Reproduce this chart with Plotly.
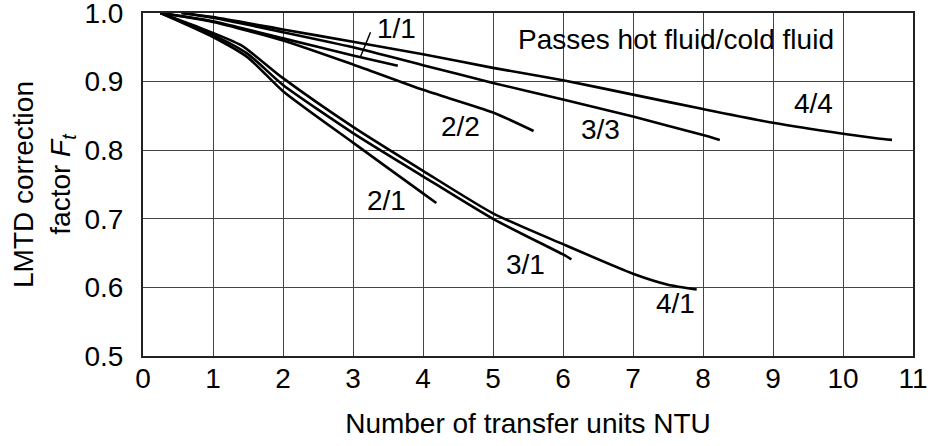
import plotly.graph_objects as go

# ---- data ----
names = ["4/4", "3/3", "1/1", "2/2", "4/1", "3/1", "2/1"]

ntu_44 = [0.55, 1, 2, 3, 4, 5, 6, 7, 8, 9, 10, 10.5, 10.7]
ft_44 = [1.0, 0.994, 0.976, 0.958, 0.940, 0.920, 0.902, 0.881, 0.860, 0.840, 0.824, 0.817, 0.815]

ntu_33 = [0.55, 1, 2, 3, 4, 5, 6, 7, 8, 8.24]
ft_33 = [1.0, 0.993, 0.972, 0.950, 0.924, 0.898, 0.874, 0.849, 0.822, 0.815]

ntu_11 = [0.25, 1, 2, 3, 3.64]
ft_11 = [1.0, 0.988, 0.963, 0.938, 0.923]

ntu_22 = [0.25, 1, 2, 3, 4, 5, 5.58]
ft_22 = [1.0, 0.987, 0.960, 0.925, 0.888, 0.855, 0.828]

ntu_41 = [0.25, 0.8, 1.4, 2, 3, 4, 5, 6, 7, 7.5, 7.91]
ft_41 = [1.0, 0.979, 0.953, 0.905, 0.834, 0.770, 0.708, 0.663, 0.620, 0.604, 0.597]

ntu_31 = [0.25, 1, 1.5, 2, 3, 4, 5, 6, 6.12]
ft_31 = [1.0, 0.968, 0.940, 0.895, 0.825, 0.762, 0.700, 0.648, 0.641]

ntu_21 = [0.25, 1, 1.5, 2, 3, 4, 4.19]
ft_21 = [1.0, 0.965, 0.935, 0.886, 0.811, 0.737, 0.723]

# curve labels
label_text = ["1/1", "2/2", "3/3", "4/4", "2/1", "3/1", "4/1"]
label_x = [3.62, 4.53, 6.53, 9.58, 3.48, 5.46, 7.6]
label_y = [0.977, 0.834, 0.830, 0.868, 0.726, 0.634, 0.576]

x_ticks = list(range(0, 12))
y_ticks = [0.5, 0.6, 0.7, 0.8, 0.9, 1.0]

series = [
    (ntu_44, ft_44), (ntu_33, ft_33), (ntu_11, ft_11), (ntu_22, ft_22),
    (ntu_41, ft_41), (ntu_31, ft_31), (ntu_21, ft_21),
]

FONT = "Liberation Sans, Arial, Helvetica, sans-serif"
FS = 28

fig = go.Figure()
for name, (xs, ys) in zip(names, series):
    fig.add_trace(go.Scatter(
        x=xs, y=ys, mode="lines", name=name,
        line=dict(color="black", width=2.6, shape="spline", smoothing=0.6),
        showlegend=False, hoverinfo="skip",
    ))

for t, x, y in zip(label_text, label_x, label_y):
    fig.add_annotation(x=x, y=y, text=t, showarrow=False,
                       font=dict(family=FONT, size=FS, color="black"))

# leader line for 1/1
fig.add_shape(type="line", x0=3.25, y0=0.972, x1=3.11, y1=0.937,
              line=dict(color="black", width=1.5))

# white box behind the legend caption (interrupts grid lines)
fig.add_shape(type="rect", x0=5.05, x1=10.9, y0=0.936, y1=0.988,
              fillcolor="white", line=dict(width=0), layer="below")
fig.add_annotation(x=7.62, y=0.962, text="Passes hot fluid/cold fluid",
                   showarrow=False,
                   font=dict(family=FONT, size=FS, color="black"))

fig.update_xaxes(
    range=[0, 11], tickvals=x_ticks, ticktext=[str(v) for v in x_ticks],
    showgrid=True, gridcolor="#444444", gridwidth=1.4,
    showline=True, linecolor="#222", linewidth=2, mirror=True,
    ticks="", zeroline=False, automargin="bottom",
    ticklabelstandoff=-4, ticklabeloverflow="allow",
    tickfont=dict(family=FONT, size=FS, color="black"),
    title=dict(text="Number of transfer units NTU",
               font=dict(family=FONT, size=FS, color="black"), standoff=21),
)
fig.update_yaxes(
    range=[0.5, 1.0], tickvals=y_ticks, ticktext=[f"{v:.1f}" for v in y_ticks],
    showgrid=True, gridcolor="#444444", gridwidth=1.4,
    showline=True, linecolor="#222", linewidth=2, mirror=True,
    ticks="", zeroline=False, automargin="left",
    ticklabelstandoff=12, ticklabeloverflow="allow",
    tickfont=dict(family=FONT, size=FS, color="black"),
    title=dict(text="LMTD correction<br>factor <i>F</i><sub><i>t</i></sub>",
               font=dict(family=FONT, size=FS, color="black"), standoff=6),
)

fig.update_layout(
    width=932, height=446,
    margin=dict(l=143, r=19, t=13, b=86),
    plot_bgcolor="white", paper_bgcolor="white",
    font=dict(family=FONT, size=FS, color="black"),
)

# remove the default page margin so the figure fills the window exactly
fig.write_html("out.html",
               config={"displayModeBar": False},
               post_script="document.body.style.margin='0';document.body.style.overflow='hidden';")
